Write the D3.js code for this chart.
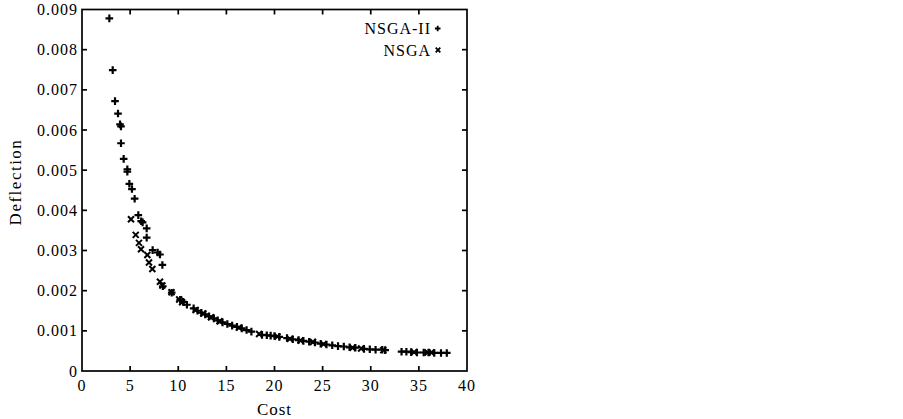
<!DOCTYPE html>
<html>
<head>
<meta charset="utf-8">
<script src="https://cdn.jsdelivr.net/npm/d3@7"></script>
<style>
  html, body { margin: 0; padding: 0; background: #fff; }
  svg { display: block; }
  text { font-family: "Liberation Serif", "Times New Roman", serif; fill: #000; }
</style>
</head>
<body>
<div id="chart"></div>
<script>
// ── Data ────────────────────────────────────────────────────────────────────
const X_TICKS = [0, 5, 10, 15, 20, 25, 30, 35, 40];
const Y_TICKS = [0, 0.001, 0.002, 0.003, 0.004, 0.005, 0.006, 0.007, 0.008, 0.009];
const Y_LABELS = ["0", "0.001", "0.002", "0.003", "0.004", "0.005", "0.006", "0.007", "0.008", "0.009"];

// NSGA-II front: [cost, deflection]
const NSGA2 = [
  [2.84, 0.00878], [3.19, 0.00749], [3.43, 0.00672], [3.74, 0.00641],
  [3.95, 0.00614], [4.05, 0.00609], [4.05, 0.00567], [4.33, 0.00528],
  [4.71, 0.00502], [4.71, 0.00496], [4.92, 0.00466], [5.19, 0.00453],
  [5.47, 0.00429], [5.85, 0.00388], [6.15, 0.00373], [6.30, 0.00370],
  [6.72, 0.00355], [6.72, 0.00332], [7.34, 0.00301], [7.86, 0.00295],
  [8.10, 0.00290], [8.35, 0.00264], [8.40, 0.00211], [9.32, 0.00195],
  [10.2, 0.00177], [10.5, 0.00172], [10.9, 0.00165], [11.6, 0.00156],
  [12.0, 0.00150], [12.4, 0.00145], [12.8, 0.00141], [13.2, 0.00136],
  [13.7, 0.00131], [14.1, 0.00126], [14.6, 0.00121], [15.1, 0.00117],
  [15.6, 0.00113], [16.1, 0.00110], [16.6, 0.00106], [17.1, 0.00102],
  [17.6, 0.00098], [18.7, 0.00090], [19.2, 0.00089], [19.6, 0.00088],
  [20.0, 0.00087], [20.5, 0.00085], [21.3, 0.00082], [21.9, 0.00079],
  [22.5, 0.00077], [23.0, 0.00075], [23.6, 0.00073], [24.2, 0.00071],
  [24.8, 0.00068], [25.4, 0.00066], [26.0, 0.00064], [26.6, 0.00062],
  [27.2, 0.00061], [27.8, 0.00059], [28.4, 0.00058], [29.3, 0.00055],
  [29.9, 0.00054], [30.5, 0.00053], [31.2, 0.00053], [31.5, 0.00052],
  [33.2, 0.00048], [33.7, 0.00048], [34.2, 0.00047], [34.8, 0.00046],
  [35.5, 0.00046], [36.0, 0.00046], [36.6, 0.00045], [37.3, 0.00045],
  [37.9, 0.00045]
];

// NSGA front: [cost, deflection]
const NSGA = [
  [5.09, 0.00378], [5.58, 0.00339], [5.92, 0.00319], [6.13, 0.00303],
  [6.79, 0.00289], [6.96, 0.00270], [7.31, 0.00254], [8.10, 0.00222],
  [8.35, 0.00213], [9.30, 0.00196], [10.1, 0.00178], [10.4, 0.00171],
  [11.8, 0.00152], [12.6, 0.00143], [13.4, 0.00134], [14.3, 0.00124],
  [16.3, 0.00108], [18.4, 0.00092], [20.3, 0.00086], [21.6, 0.00080],
  [22.7, 0.00076], [24.0, 0.00072], [25.1, 0.00067], [28.1, 0.00058],
  [29.0, 0.00056], [31.3, 0.00052], [34.5, 0.00047], [35.9, 0.00046],
  [36.3, 0.00046]
];

const SERIES = ["NSGA-II", "NSGA"];

// ── Layout ──────────────────────────────────────────────────────────────────
const W = 903, H = 419;
const plot = { left: 82, right: 467, top: 9.5, bottom: 371 };

const svg = d3.select("#chart").append("svg")
  .attr("width", W).attr("height", H);

const x = d3.scaleLinear().domain([0, 40]).range([plot.left, plot.right]);
const y = d3.scaleLinear().domain([0, 0.009]).range([plot.bottom, plot.top]);

const TICK = 5;
const axes = svg.append("g").attr("stroke", "#000").attr("stroke-width", 1.7);

// frame
axes.append("rect")
  .attr("x", plot.left).attr("y", plot.top)
  .attr("width", plot.right - plot.left)
  .attr("height", plot.bottom - plot.top)
  .attr("fill", "none");

// inward ticks, bottom/top
X_TICKS.slice(1, -1).forEach(function (v) {
  axes.append("line")
    .attr("x1", x(v)).attr("x2", x(v))
    .attr("y1", plot.bottom).attr("y2", plot.bottom - TICK);
  axes.append("line")
    .attr("x1", x(v)).attr("x2", x(v))
    .attr("y1", plot.top).attr("y2", plot.top + TICK);
});
// inward ticks, left/right
Y_TICKS.slice(1, -1).forEach(function (v) {
  axes.append("line")
    .attr("x1", plot.left).attr("x2", plot.left + TICK)
    .attr("y1", y(v)).attr("y2", y(v));
  axes.append("line")
    .attr("x1", plot.right).attr("x2", plot.right - TICK)
    .attr("y1", y(v)).attr("y2", y(v));
});

// tick labels
const labels = svg.append("g")
  .attr("font-size", 16)
  .attr("letter-spacing", "1px");

X_TICKS.forEach(function (v) {
  labels.append("text")
    .attr("x", x(v)).attr("y", plot.bottom + 20)
    .attr("text-anchor", "middle")
    .text(String(v));
});
Y_TICKS.forEach(function (v, i) {
  labels.append("text")
    .attr("x", plot.left - 4).attr("y", y(v))
    .attr("text-anchor", "end")
    .attr("dominant-baseline", "central")
    .text(Y_LABELS[i]);
});

// axis titles
svg.append("text")
  .attr("x", (plot.left + plot.right) / 2).attr("y", 415)
  .attr("text-anchor", "middle")
  .attr("font-size", 17)
  .attr("letter-spacing", "1px")
  .text("Cost");

svg.append("text")
  .attr("transform", "translate(21,182) rotate(-90)")
  .attr("text-anchor", "middle")
  .attr("font-size", 17)
  .attr("letter-spacing", "1.5px")
  .text("Deflection");

// ── Markers ─────────────────────────────────────────────────────────────────
const PLUS = 3.8, CROSS = 3;

function plusPath(cx, cy) {
  return `M${cx - PLUS},${cy}H${cx + PLUS}M${cx},${cy - PLUS}V${cy + PLUS}`;
}
function crossPath(cx, cy) {
  return `M${cx - CROSS},${cy - CROSS}L${cx + CROSS},${cy + CROSS}` +
         `M${cx - CROSS},${cy + CROSS}L${cx + CROSS},${cy - CROSS}`;
}

const marks = svg.append("g")
  .attr("stroke", "#000")
  .attr("fill", "none")
  .attr("stroke-linecap", "butt");

marks.selectAll("path.nsga")
  .data(NSGA).enter().append("path")
  .attr("class", "nsga")
  .attr("stroke-width", 2)
  .attr("d", d => crossPath(x(d[0]), y(d[1])));

marks.selectAll("path.nsga2")
  .data(NSGA2).enter().append("path")
  .attr("class", "nsga2")
  .attr("stroke-width", 2.2)
  .attr("d", d => plusPath(x(d[0]), y(d[1])));

// ── Legend ──────────────────────────────────────────────────────────────────
const legend = svg.append("g")
  .attr("font-size", 16)
  .attr("letter-spacing", "1px");

[28.5, 50].forEach(function (ly, i) {
  legend.append("text")
    .attr("x", 431).attr("y", ly)
    .attr("text-anchor", "end")
    .attr("dominant-baseline", "central")
    .text(SERIES[i]);
  legend.append("path")
    .attr("stroke", "#000").attr("stroke-width", 1.8)
    .attr("fill", "none")
    .attr("d", i === 0
      ? `M${437.7 - 2.8},${ly}H${437.7 + 2.8}M437.7,${ly - 2.8}V${ly + 2.8}`
      : `M${438 - 2.3},${ly - 2.3}L${438 + 2.3},${ly + 2.3}M${438 - 2.3},${ly + 2.3}L${438 + 2.3},${ly - 2.3}`);
});
</script>
</body>
</html>
